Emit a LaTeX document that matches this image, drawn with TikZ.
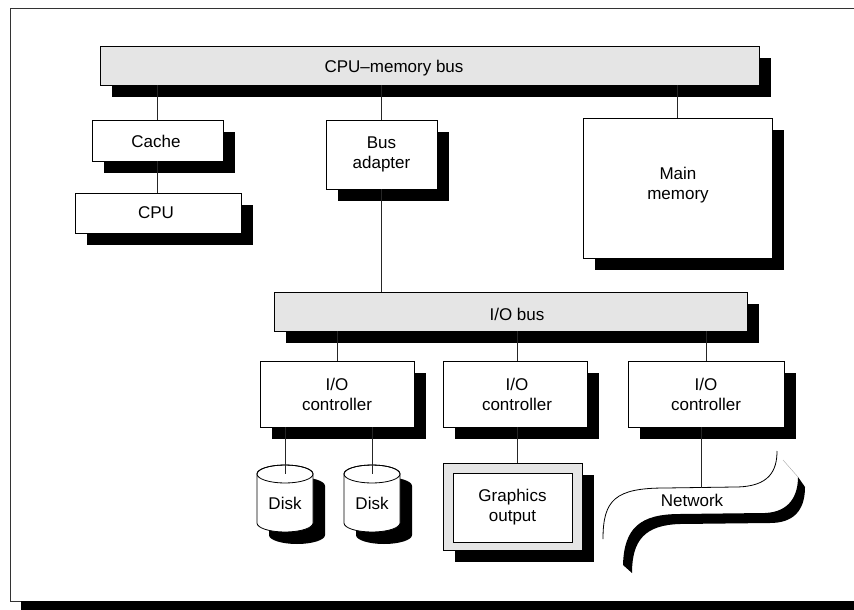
\documentclass[tikz,border=0pt]{standalone}
\usepackage{fontspec}
\setmainfont{Liberation Sans}
\usetikzlibrary{shadows,calc}
\tikzset{
  lbl/.style={align=center,inner sep=0pt,font=\fontsize{17}{20}\selectfont},
  blk/.style={draw=black,line width=0.8pt,inner sep=0pt,fill=white,
    drop shadow={shadow xshift=12pt,shadow yshift=-12pt,fill=black,opacity=1}},
  busblk/.style={blk,fill=black!10},
  wire/.style={draw=black!85,line width=0.8pt},
}
\newcommand\mydisk[3]{% name, cx, cy
  \fill[black] ($(#2,#3)+(-16,12)$) -- ++(0,49) arc[start angle=180,end angle=360,x radius=28pt,y radius=9pt] -- ++(0,-49) arc[start angle=0,end angle=180,x radius=28pt,y radius=9pt] -- cycle;
  \filldraw[fill=white,draw=black,line width=0.8pt] ($(#2,#3)+(-28,0)$) -- ++(0,49) arc[start angle=180,end angle=360,x radius=28pt,y radius=9pt] -- ++(0,-49) arc[start angle=0,end angle=180,x radius=28pt,y radius=9pt] -- cycle;
  \draw[black,line width=0.8pt] (#2,#3) ellipse[x radius=28pt,y radius=9pt];
  \coordinate (#1) at (#2,#3);
}
\begin{document}
\begin{tikzpicture}[x=1pt,y=-1pt]
\useasboundingbox (0,0) rectangle (854,610);
% outer frame
\draw[black!80,line width=1pt] (854,9) -- (10,9) -- (10,601) -- (854,601);
\fill[black] (21,601) rectangle (854,610);

% boxes
\node[busblk,minimum width=659pt,minimum height=39pt] (membus) at (429.5,65.5) {};
\node[lbl] (membust) at (394,68) {CPU–memory bus};
\node[blk,minimum width=131pt,minimum height=41pt] (cache) at (157.5,140.5) {};
\node[lbl] (cachet) at (156,141) {Cache};
\node[blk,minimum width=166pt,minimum height=40pt] (cpu) at (158,213) {};
\node[lbl] (cput) at (156,213) {CPU};
\node[blk,minimum width=111pt,minimum height=69pt] (adapter) at (381.5,154.5) {};
\node[lbl] (adaptert) at (adapter) {Bus\\adapter};
\node[blk,minimum width=189pt,minimum height=140pt] (mainmem) at (677.5,188) {};
\node[lbl] (mainmemt) at (678,185) {Main\\memory};
\node[busblk,minimum width=473pt,minimum height=39pt] (iobus) at (510.5,311.5) {};
\node[lbl] (iobust) at (517,314) {I/O bus};
\node[blk,minimum width=154pt,minimum height=66pt] (ctrl1) at (337,394) {};
\node[lbl] (ctrl1t) at (ctrl1) {I/O\\controller};
\node[blk,minimum width=144pt,minimum height=66pt] (ctrl2) at (515,394) {};
\node[lbl] (ctrl2t) at (517,394) {I/O\\controller};
\node[blk,minimum width=156pt,minimum height=66pt] (ctrl3) at (706,394) {};
\node[lbl] (ctrl3t) at (ctrl3) {I/O\\controller};

% graphics output
\node[busblk,minimum width=139pt,minimum height=87pt] (gout) at (512.5,506.5) {};
\node[draw=black,line width=0.8pt,fill=white,inner sep=0pt,minimum width=119pt,minimum height=69pt] (gin) at (512.5,507.5) {};
\node[lbl] (goutt) at (gin) {Graphics\\output};

% disks
\mydisk{disk1}{285}{474}
\node[lbl] (disk1t) at (285,503) {Disk};
\mydisk{disk2}{372}{474}
\node[lbl] (disk2t) at (372,503) {Disk};

% network
\fill[black] (623,565) .. controls (624,528) and (640,514) .. (680,514) -- (765,513)
  .. controls (790,512) and (798,495) .. (798,477) -- (805,487)
  .. controls (805,512) and (792,523) .. (770,523) -- (680,524)
  .. controls (645,525) and (632,540) .. (632,573) -- cycle;
\draw[black!35,line width=0.4pt] (783,460) -- (798,477);
\draw[black,line width=0.8pt] (603,539) .. controls (603,500) and (615,488) .. (665,488)
  -- (735,487) .. controls (770,487) and (777,470) .. (777,451);
\coordinate (netjoin) at (701,487.5);
\node[lbl] (nett) at (692,500) {Network};

% connectors
\draw[wire] (cache.north |- membus.south) -- (cache.north);
\draw[wire] (cache.south) -- (cache.south |- cpu.north);
\draw[wire] (adapter.north |- membus.south) -- (adapter.north);
\draw[wire] (mainmem.north |- membus.south) -- (mainmem.north);
\draw[wire] (adapter.south) -- (adapter.south |- iobus.north);
\draw[wire] (ctrl1.north |- iobus.south) -- (ctrl1.north);
\draw[wire] (ctrl2t.center |- iobus.south) -- (ctrl2t.center |- ctrl2.north);
\draw[wire] (ctrl3.north |- iobus.south) -- (ctrl3.north);
\draw[wire] (disk1 |- ctrl1.south) -- (disk1);
\draw[wire] (disk2 |- ctrl1.south) -- (disk2);
\draw[wire] (ctrl2t.center |- ctrl2.south) -- (ctrl2t.center |- gout.north);
\draw[wire] (netjoin |- ctrl3.south) -- (netjoin);
\end{tikzpicture}
\end{document}
